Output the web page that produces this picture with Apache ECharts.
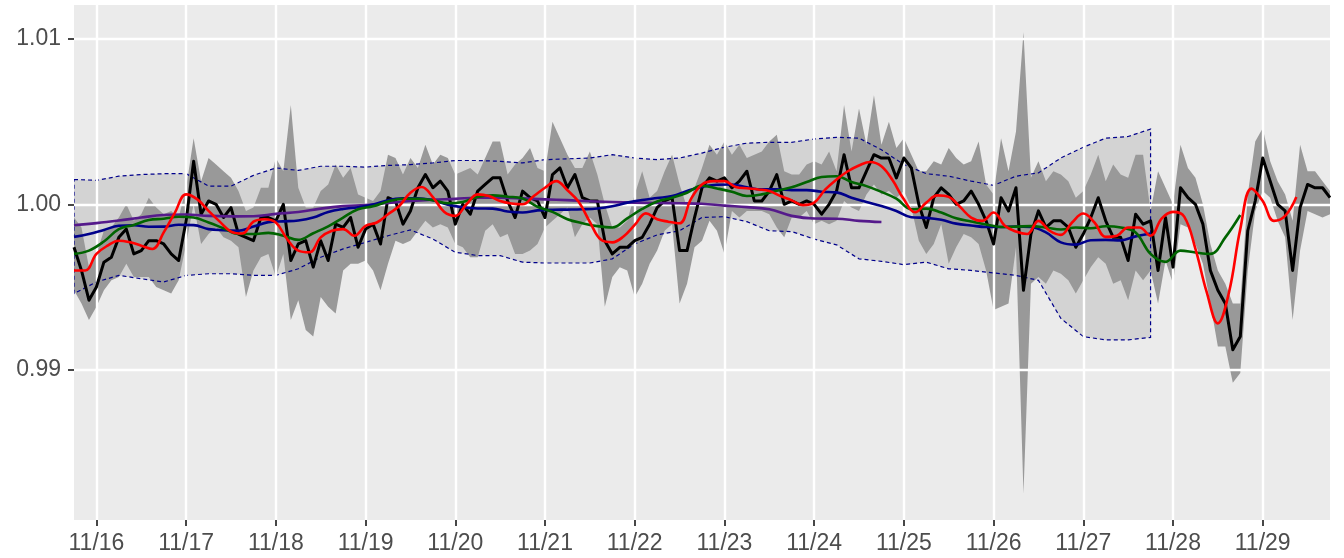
<!DOCTYPE html>
<html>
<head>
<meta charset="utf-8">
<script src="https://cdn.jsdelivr.net/npm/echarts@6/dist/echarts.min.js"></script>
<style>
  html, body { margin: 0; padding: 0; background: #ffffff; }
  #chart { width: 1344px; height: 558px; }
</style>
</head>
<body>
<div id="chart"></div>
<script>
// x is counted in hours from 11/15 18:00

// observed series, one value every 2 hours
const obsStep = 2;
const observed = [
  0.9974, 0.9960, 0.9942, 0.9950, 0.9965, 0.9968, 0.9980, 0.9985, 0.9970, 0.9972, 0.9978, 0.9978, 0.9976, 0.9970, 0.9966, 0.9990, 1.0026, 0.9994, 1.0002, 1.0000, 0.9992, 0.9998, 0.9982, 0.9980, 0.9978, 0.9992, 0.9992, 0.9990, 1.0000,
  0.9966, 0.9976, 0.9978, 0.9962, 0.9978, 0.9966, 0.9988, 0.9986, 0.9992, 0.9974, 0.9985, 0.9988, 0.9976, 1.0004, 1.0002, 0.9988, 0.9996, 1.0010, 1.0018, 1.0010, 1.0014, 1.0008, 0.9988, 1.0000, 0.9994, 1.0008, 1.0012, 1.0016,
  1.0016, 1.0002, 0.9992, 1.0008, 1.0004, 1.0002, 0.9992, 1.0018, 1.0022, 1.0010, 1.0018, 1.0004, 1.0002, 1.0002, 0.9978, 0.9970, 0.9974, 0.9974, 0.9978, 0.9980, 0.9988, 0.9998, 1.0002, 1.0004, 0.9972, 0.9972, 0.9992, 1.0010,
  1.0016, 1.0014, 1.0016, 1.0010, 1.0014, 1.0020, 1.0002, 1.0002, 1.0008, 1.0018, 1.0000, 1.0002, 1.0000, 1.0002, 1.0000, 0.9994, 1.0000, 1.0008, 1.0030, 1.0010, 1.0010, 1.0020, 1.0030, 1.0028, 1.0028, 1.0016, 1.0028, 1.0022, 1.0000,
  0.9986, 1.0004, 1.0010, 1.0006, 1.0000, 1.0002, 1.0008, 1.0000, 0.9990, 0.9976, 1.0004, 0.9996, 1.0010, 0.9948, 0.9982, 0.9996, 0.9986, 0.9990, 0.9990, 0.9986, 0.9974, 0.9982, 0.9992, 1.0004, 0.9990, 0.9980, 0.9980,
  0.9966, 0.9994, 0.9988, 0.9990, 0.9960, 0.9992, 0.9962, 1.0010, 1.0004, 1.0000, 0.9988, 0.9960, 0.9948, 0.9940, 0.9912, 0.9920, 0.9984, 1.0002, 1.0028, 1.0014, 1.0000, 0.9996, 0.9960, 0.9998, 1.0012, 1.0010, 1.0010, 1.0004
];
const observedLow = [
  0.9948, 0.9940, 0.9930, 0.9938, 0.9948, 0.9954, 0.9956, 0.9964, 0.9956, 0.9956, 0.9956, 0.9950, 0.9948, 0.9946, 0.9954, 0.9976, 1.0000, 0.9976, 0.9982, 0.9986, 0.9980, 0.9978, 0.9974, 0.9944, 0.9960, 0.9968, 0.9970, 0.9956, 0.9970,
  0.9930, 0.9942, 0.9924, 0.9920, 0.9944, 0.9938, 0.9934, 0.9960, 0.9964, 0.9964, 0.9966, 0.9960, 0.9948, 0.9964, 0.9978, 0.9976, 0.9978, 0.9984, 0.9990, 0.9986, 0.9988, 0.9986, 0.9976, 0.9974, 0.9968, 0.9968, 0.9984, 0.9988,
  0.9980, 0.9982, 0.9970, 0.9970, 0.9972, 0.9976, 0.9986, 0.9990, 0.9994, 0.9998, 0.9980, 0.9988, 0.9992, 0.9988, 0.9938, 0.9956, 0.9962, 0.9960, 0.9944, 0.9952, 0.9964, 0.9972, 0.9984, 0.9988, 0.9940, 0.9952, 0.9974, 0.9978,
  0.9990, 0.9984, 0.9970, 0.9996, 0.9992, 0.9996, 0.9996, 0.9996, 0.9994, 0.9986, 0.9980, 0.9992, 0.9992, 0.9996, 0.9988, 0.9990, 0.9988, 0.9990, 1.0002, 0.9998, 0.9996, 1.0006, 1.0012, 1.0006, 1.0008, 1.0004, 1.0008, 0.9998, 0.9978,
  0.9970, 0.9976, 0.9988, 0.9964, 0.9974, 0.9982, 0.9980, 0.9976, 0.9960, 0.9936, 0.9938, 0.9940, 0.9974, 0.9825, 0.9952, 0.9956, 0.9952, 0.9960, 0.9958, 0.9954, 0.9946, 0.9954, 0.9962, 0.9968, 0.9964, 0.9952, 0.9954,
  0.9942, 0.9960, 0.9954, 0.9960, 0.9940, 0.9966, 0.9952, 0.9988, 0.9986, 0.9976, 0.9964, 0.9940, 0.9914, 0.9914, 0.9892, 0.9898, 0.9960, 0.9996, 1.0008, 1.0004, 0.9990, 0.9980, 0.9930, 0.9972, 0.9996, 0.9994, 0.9992, 0.9994
];
const observedHigh = [
  0.9992, 0.9986, 0.9962, 0.9970, 0.9984, 0.9986, 0.9992, 1.0000, 0.9990, 0.9994, 1.0004, 0.9998, 0.9994, 0.9996, 0.9992, 1.0010, 1.0040, 1.0014, 1.0028, 1.0024, 1.0020, 1.0016, 1.0008, 0.9996, 0.9998, 1.0010, 1.0010, 1.0028, 1.0020,
  1.0060, 1.0010, 0.9998, 0.9998, 1.0008, 1.0012, 1.0024, 1.0016, 1.0022, 1.0006, 1.0004, 1.0002, 1.0008, 1.0030, 1.0028, 1.0018, 1.0028, 1.0022, 1.0036, 1.0024, 1.0030, 1.0028, 1.0018, 1.0020, 1.0022, 1.0018, 1.0028, 1.0038,
  1.0038, 1.0018, 1.0024, 1.0028, 1.0034, 1.0022, 1.0020, 1.0050, 1.0040, 1.0030, 1.0022, 1.0022, 1.0032, 1.0018, 1.0000, 0.9986, 0.9986, 0.9990, 1.0006, 1.0020, 1.0004, 1.0008, 1.0020, 1.0030, 1.0012, 0.9998, 1.0010, 1.0022,
  1.0036, 1.0030, 1.0038, 1.0030, 1.0036, 1.0028, 1.0030, 1.0032, 1.0038, 1.0042, 1.0020, 1.0018, 1.0018, 1.0024, 1.0026, 1.0024, 1.0032, 1.0020, 1.0060, 1.0032, 1.0058, 1.0036, 1.0066, 1.0036, 1.0050, 1.0034, 1.0040, 1.0030, 1.0020,
  1.0020, 1.0026, 1.0024, 1.0034, 1.0028, 1.0024, 1.0026, 1.0038, 1.0012, 1.0006, 1.0040, 1.0020, 1.0044, 1.0104, 1.0016, 1.0026, 1.0014, 1.0020, 1.0018, 1.0014, 1.0004, 1.0008, 1.0018, 1.0030, 1.0014, 1.0024, 1.0018,
  1.0016, 1.0030, 1.0030, 0.9996, 1.0020, 1.0010, 1.0000, 1.0036, 1.0022, 1.0016, 1.0000, 0.9976, 0.9960, 0.9952, 0.9940, 0.9940, 1.0006, 1.0038, 1.0046, 1.0026, 1.0014, 1.0006, 0.9990, 1.0036, 1.0020, 1.0020, 1.0014, 1.0008
];

// wide envelope (dashed outline), one value every 6 hours
const envStep = 6;
const envHigh = [
  1.00150, 1.00145, 1.00170, 1.00180, 1.00185, 1.00185, 1.00110, 1.00110, 1.00175, 1.00220,
  1.00205, 1.00230, 1.00230, 1.00225, 1.00235, 1.00240, 1.00250, 1.00265, 1.00265, 1.00260,
  1.00250, 1.00270, 1.00275, 1.00280, 1.00300, 1.00280, 1.00270, 1.00280, 1.00310, 1.00345,
  1.00370, 1.00375, 1.00375, 1.00395, 1.00405, 1.00400, 1.00330, 1.00240, 1.00185, 1.00170,
  1.00140, 1.00115, 1.00170, 1.00190, 1.00280, 1.00345, 1.00400, 1.00410, 1.00455
];
const envLow = [
  0.99460, 0.99530, 0.99570, 0.99550, 0.99530, 0.99570, 0.99580, 0.99580, 0.99570, 0.99570,
  0.99610, 0.99680, 0.99730, 0.99770, 0.99810, 0.99845, 0.99790, 0.99710, 0.99690, 0.99690,
  0.99650, 0.99645, 0.99645, 0.99645, 0.99670, 0.99760, 0.99815, 0.99840, 0.99920, 0.99925,
  0.99895, 0.99840, 0.99835, 0.99790, 0.99755, 0.99670, 0.99655, 0.99635, 0.99650, 0.99610,
  0.99600, 0.99585, 0.99570, 0.99540, 0.99310, 0.99200, 0.99180, 0.99180, 0.99195
];

// red fit, every 3 hours
const redStep = 3;
const redFit = [
  0.99600, 0.99600, 0.99700, 0.99750, 0.99780, 0.99770, 0.99750, 0.99730, 0.99830, 0.99950,
  1.00060, 1.00030, 0.99960, 0.99895, 0.99835, 0.99823, 0.99895, 0.99910, 0.99890, 0.99790,
  0.99720, 0.99710, 0.99800, 0.99840, 0.99850, 0.99810, 0.99870, 0.99890, 0.99940, 0.99990,
  1.00070, 1.00105, 1.00044, 0.99955, 0.99930, 1.00000, 1.00060, 1.00050, 1.00020, 1.00005,
  1.00000, 1.00050, 1.00100, 1.00140, 1.00085, 1.00015, 0.99893, 0.99785, 0.99770, 0.99805,
  0.99875, 0.99945, 0.99910, 0.99895, 0.99885, 1.00030, 1.00120, 1.00140, 1.00140, 1.00105,
  1.00097, 1.00090, 1.00080, 1.00050, 1.00024, 0.99995, 1.00010, 1.00090, 1.00150, 1.00200,
  1.00235, 1.00256, 1.00230, 1.00145, 1.00030, 0.99952, 1.00010, 1.00054, 1.00045, 0.99985,
  0.99920, 0.99900, 0.99950, 0.99870, 0.99835, 0.99820, 0.99900, 0.99840, 0.99815, 0.99890,
  0.99944, 0.99890, 0.99803, 0.99810, 0.99860, 0.99860, 0.99810, 0.99915, 0.99954, 0.99925,
  0.99730, 0.99470, 0.99280, 0.99470, 0.99850, 1.00095, 1.00020, 0.99900, 0.99930, 1.00044
];

// green fit, every 4 hours
const greenStep = 4;
const greenFit = [
  0.99700, 0.99720, 0.99775, 0.99850, 0.99875, 0.99905, 0.99913, 0.99925, 0.99920, 0.99890,
  0.99855, 0.99820, 0.99820, 0.99827, 0.99810, 0.99785, 0.99825, 0.99867, 0.99920, 0.99970,
  0.99988, 1.00017, 1.00034, 1.00034, 1.00024, 1.00006, 1.00014, 1.00045, 1.00054, 1.00046,
  1.00035, 0.99985, 0.99954, 0.99910, 0.99886, 0.99868, 0.99860, 0.99915, 0.99972, 1.00017,
  1.00040, 1.00070, 1.00113, 1.00096, 1.00076, 1.00050, 1.00060, 1.00082, 1.00103, 1.00135,
  1.00165, 1.00170, 1.00135, 1.00110, 1.00075, 1.00034, 0.99970, 0.99974, 0.99950, 0.99915,
  0.99896, 0.99878, 0.99863, 0.99865, 0.99868, 0.99860, 0.99848, 0.99860, 0.99855, 0.99867,
  0.99860, 0.99830, 0.99700, 0.99652, 0.99720, 0.99708, 0.99700, 0.99800, 0.99935
];

// navy fit, every 4 hours
const navyStep = 4;
const navyFit = [
  0.99803, 0.99820, 0.99845, 0.99870, 0.99873, 0.99864, 0.99865, 0.99876, 0.99874, 0.99850,
  0.99843, 0.99840, 0.99865, 0.99892, 0.99897, 0.99902, 0.99920, 0.99954, 0.99972, 0.99982,
  0.99998, 1.00025, 1.00036, 1.00037, 1.00024, 0.99998, 0.99982, 0.99975, 0.99974, 0.99956,
  0.99950, 0.99963, 0.99967, 0.99968, 0.99970, 0.99975, 0.99988, 1.00010, 1.00026, 1.00038,
  1.00050, 1.00080, 1.00107, 1.00118, 1.00120, 1.00103, 1.00090, 1.00090, 1.00086, 1.00086,
  1.00076, 1.00072, 1.00040, 1.00014, 0.99990, 0.99960, 0.99922, 0.99918, 0.99906, 0.99883,
  0.99872, 0.99863, 0.99863, 0.99866, 0.99863, 0.99830, 0.99770, 0.99756, 0.99783, 0.99785,
  0.99782, 0.99806, 0.99823
];

// purple fit, every 6 hours
const purpleStep = 6;
const purpleFit = [
  0.99873, 0.99886, 0.99902, 0.99920, 0.99935, 0.99938, 0.99930, 0.99927, 0.99928, 0.99942,
  0.99953, 0.99974, 0.99989, 0.99996, 1.00008, 1.00020, 1.00028, 1.00033, 1.00040, 1.00040,
  1.00036, 1.00030, 1.00025, 1.00018, 1.00014, 1.00010, 1.00008, 1.00006, 1.00003, 0.99992,
  0.99983, 0.99970, 0.99930, 0.99914, 0.99913, 0.99900, 0.99893
];

// axes
const dayHours = [6, 30, 54, 78, 102, 126, 150, 174, 198, 222, 246, 270, 294, 318];
const dayLabels = ['11/16', '11/17', '11/18', '11/19', '11/20', '11/21', '11/22',
                   '11/23', '11/24', '11/25', '11/26', '11/27', '11/28', '11/29'];
const yMajor = [0.99, 1.00, 1.01];
const yMinor = [0.985, 0.995, 1.005];

const font = "'Liberation Sans', Arial, sans-serif";

function toPairs(step, arr) {
  return arr.map(function (v, i) { return [i * step, v]; });
}

// a filled / outlined polygon between two curves
function bandSeries(step, lower, upper, style, z) {
  return {
    type: 'custom',
    z: z,
    silent: true,
    clip: true,
    data: [[0, lower[0]]],
    encode: { x: 0, y: 1 },
    renderItem: function (params, api) {
      const top = upper.map(function (v, i) { return api.coord([i * step, v]); });
      const bottom = lower.map(function (v, i) { return api.coord([i * step, v]); }).reverse();
      return { type: 'polygon', shape: { points: top.concat(bottom) }, style: style };
    }
  };
}

function lineSeries(data, color, width, z, smooth) {
  return {
    type: 'line',
    data: data,
    z: z,
    silent: true,
    showSymbol: false,
    symbol: 'none',
    smooth: smooth,
    lineStyle: { color: color, width: width, join: 'round' }
  };
}

const gridLines = [];
yMajor.forEach(function (v) { gridLines.push({ yAxis: v, lineStyle: { color: '#ffffff', width: 2.4, type: 'solid' } }); });
yMinor.forEach(function (v) { gridLines.push({ yAxis: v, lineStyle: { color: '#ffffff', width: 1.2, type: 'solid' } }); });
dayHours.forEach(function (h) { gridLines.push({ xAxis: h, lineStyle: { color: '#ffffff', width: 2.4, type: 'solid' } }); });

const chart = echarts.init(document.getElementById('chart'));
chart.setOption({
  animation: false,
  backgroundColor: '#ffffff',
  grid: {
    left: 74, right: 14, top: 5, bottom: 38,
    show: true, backgroundColor: '#EBEBEB', borderWidth: 0
  },
  xAxis: {
    type: 'value',
    min: 0, max: 336,
    axisLine: { show: false },
    splitLine: { show: false },
    axisTick: { show: true, customValues: dayHours, length: 6, lineStyle: { color: '#333333', width: 1.8 } },
    axisLabel: {
      customValues: dayHours,
      formatter: function (v) { return dayLabels[dayHours.indexOf(v)]; },
      color: '#4D4D4D', fontSize: 23, fontFamily: font, margin: 12
    }
  },
  yAxis: {
    type: 'value',
    min: 0.980906, max: 1.012054,
    axisLine: { show: false },
    splitLine: { show: false },
    axisTick: { show: true, customValues: yMajor, length: 6, lineStyle: { color: '#333333', width: 1.8 } },
    axisLabel: {
      customValues: yMajor,
      formatter: function (v) { return v.toFixed(2); },
      color: '#4D4D4D', fontSize: 23, fontFamily: font, margin: 13
    }
  },
  series: [
    {
      type: 'line', z: 1, silent: true, symbol: 'none',
      data: [[0, 1], [336, 1]],
      lineStyle: { opacity: 0 },
      markLine: { silent: true, symbol: 'none', label: { show: false }, animation: false, data: gridLines }
    },
    bandSeries(envStep, envLow, envHigh, { fill: '#D3D3D3', stroke: null }, 2),
    bandSeries(obsStep, observedLow, observedHigh, { fill: '#999999', stroke: null }, 3),
    bandSeries(envStep, envLow, envHigh, { fill: 'none', stroke: '#00008B', lineWidth: 1.2, lineDash: [4, 3] }, 4),
    lineSeries(toPairs(obsStep, observed), '#000000', 3, 5, false),
    lineSeries(toPairs(purpleStep, purpleFit), '#551A8B', 2.6, 6, 0.4),
    lineSeries(toPairs(navyStep, navyFit), '#00008B', 2.6, 7, 0.4),
    lineSeries(toPairs(greenStep, greenFit), '#006400', 2.6, 8, 0.4),
    lineSeries(toPairs(redStep, redFit), '#FF0000', 2.6, 9, 0.4)
  ]
});
</script>
</body>
</html>
